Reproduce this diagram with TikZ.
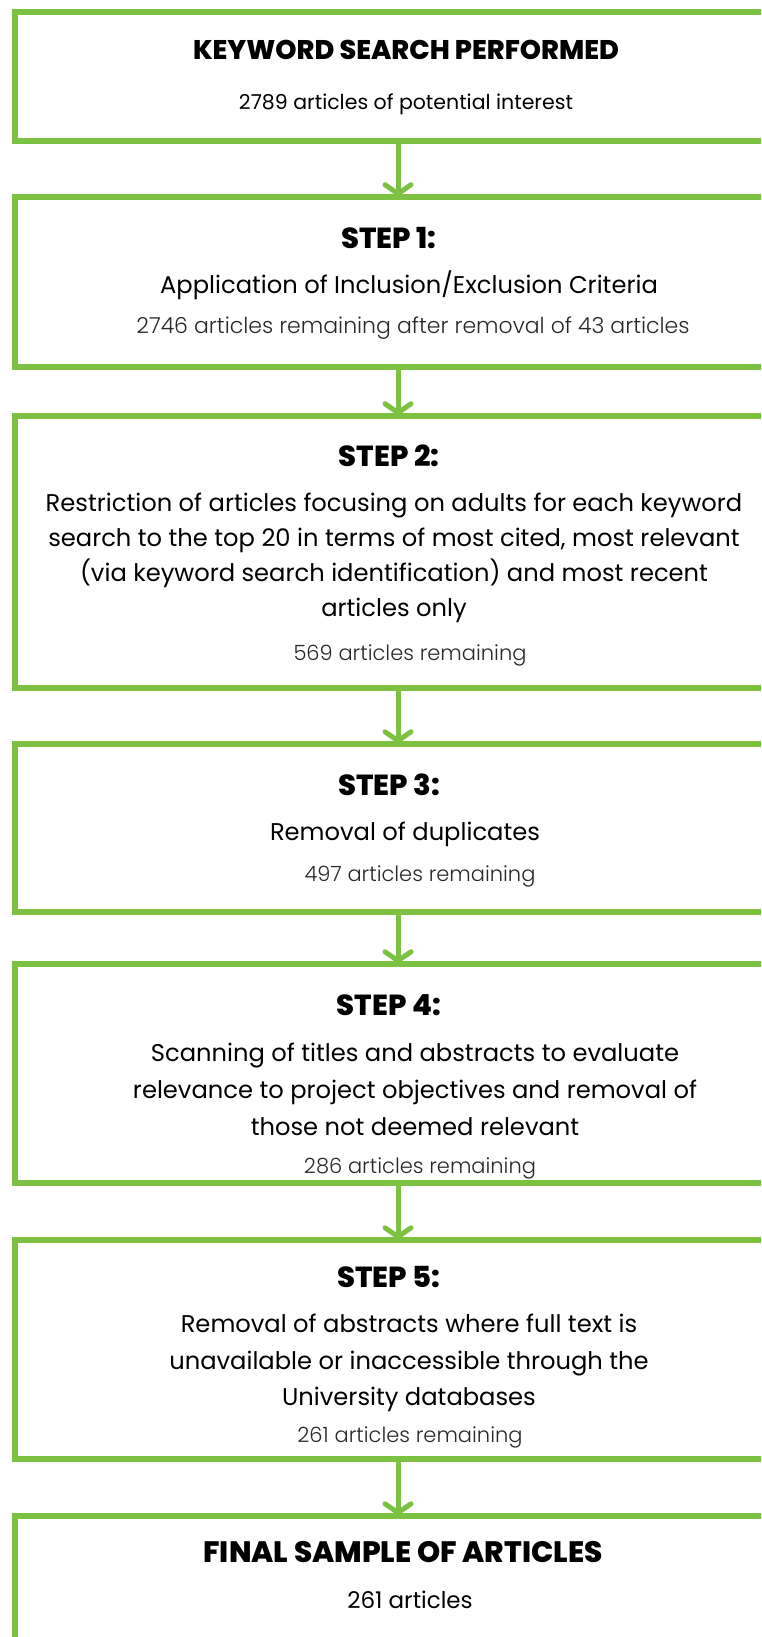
\documentclass[tikz,border=0pt]{standalone}
\usepackage{fontspec}
\setmainfont{Poppins}
\newfontfamily\lightfont{Poppins}[UprightFont=* Light]
\newfontfamily\headfont{Poppins}[UprightFont=* ExtraBold]
\usetikzlibrary{arrows.meta}
\definecolor{grn}{RGB}{125,193,66}
\definecolor{txtgray}{RGB}{40,40,40}
\tikzset{
  box/.style={draw=grn, line width=5.5pt, rectangle, minimum width=766pt, inner sep=0pt, fill=white},
  flow/.style={draw=grn, line width=5pt, line cap=round, -{Straight Barb[length=9pt, width=26pt, line width=5pt, round]}},
  head/.style={font=\headfont\fontsize{29}{34}\selectfont, text=black, inner sep=0pt, align=center},
  body/.style={font=\fontsize{24.2}{35}\selectfont, text=black, inner sep=0pt, align=center},
  sub/.style={font=\fontsize{21}{28}\selectfont, text=black, inner sep=0pt, align=center},
  rem/.style={font=\lightfont\fontsize{21}{26}\selectfont, text=txtgray, inner sep=0pt, align=center},
}
\begin{document}
\begin{tikzpicture}[x=1pt,y=-1pt]
\useasboundingbox (0,0) rectangle (761,1637);
\clip (0,0) rectangle (761,1637);
\fill[white] (0,0) rectangle (761,1637);
% boxes
\node[box, minimum height=129pt] (b0) at (398,76.5) {};
\node[box, minimum height=170pt] (b1) at (398,282) {};
\node[box, minimum height=272pt] (b2) at (398,552) {};
\node[box, minimum height=168pt] (b3) at (398,828) {};
\node[box, minimum height=219pt] (b4) at (398,1073.5) {};
\node[box, minimum height=219pt] (b5) at (398,1349.5) {};
\node[box, minimum height=184pt] (b6) at (398,1608) {};
% arrows
\draw[flow] (b0.south) -- ([yshift=-2pt]b1.north);
\draw[flow] (b1.south) -- ([yshift=-2pt]b2.north);
\draw[flow] (b2.south) -- ([yshift=-2pt]b3.north);
\draw[flow] (b3.south) -- ([yshift=-2pt]b4.north);
\draw[flow] (b4.south) -- ([yshift=-2pt]b5.north);
\draw[flow] (b5.south) -- ([yshift=-2pt]b6.north);
% texts
\node[head, font=\headfont\fontsize{27}{34}\selectfont] (t0) at (406,50) {KEYWORD SEARCH PERFORMED};
\node[sub, font=\fontsize{20.5}{28}\selectfont] (s0) at (406,104) {2789 articles of potential interest};

\node[head] (t1) at (389,238) {STEP 1:};
\node[body] (a1) at (409,285) {Application of Inclusion/Exclusion Criteria};
\node[rem, font=\lightfont\fontsize{22}{26}\selectfont] (s1) at (413,328) {2746 articles remaining after removal of 43 articles};

\node[head] (t2) at (389,456) {STEP 2:};
\node[body] (a2) at (394,558) {Restriction of articles focusing on adults for each keyword\\search to the top 20 in terms of most cited, most relevant\\(via keyword search identification) and most recent\\articles only};
\node[rem] (s2) at (410,655) {569 articles remaining};

\node[head] (t3) at (389,785) {STEP 3:};
\node[body] (a3) at (405,834) {Removal of duplicates};
\node[rem] (s3) at (420,876) {497 articles remaining};

\node[head] (t4) at (389,1005) {STEP 4:};
\node[body, font=\fontsize{24.2}{37}\selectfont] (a4) at (415,1089) {Scanning of titles and abstracts to evaluate\\relevance to project objectives and removal of\\those not deemed relevant};
\node[rem] (s4) at (420,1168) {286 articles remaining};

\node[head] (t5) at (389,1277) {STEP 5:};
\node[body, font=\fontsize{24.2}{36.5}\selectfont] (a5) at (409,1363) {Removal of abstracts where full text is\\unavailable or inaccessible through the\\University databases};
\node[rem] (s5) at (410,1437) {261 articles remaining};

\node[head, font=\headfont\fontsize{29.5}{34}\selectfont] (t6) at (403,1552) {FINAL SAMPLE OF ARTICLES};
\node[sub, font=\fontsize{23}{28}\selectfont] (s6) at (410,1600) {261 articles};
\end{tikzpicture}
\end{document}
